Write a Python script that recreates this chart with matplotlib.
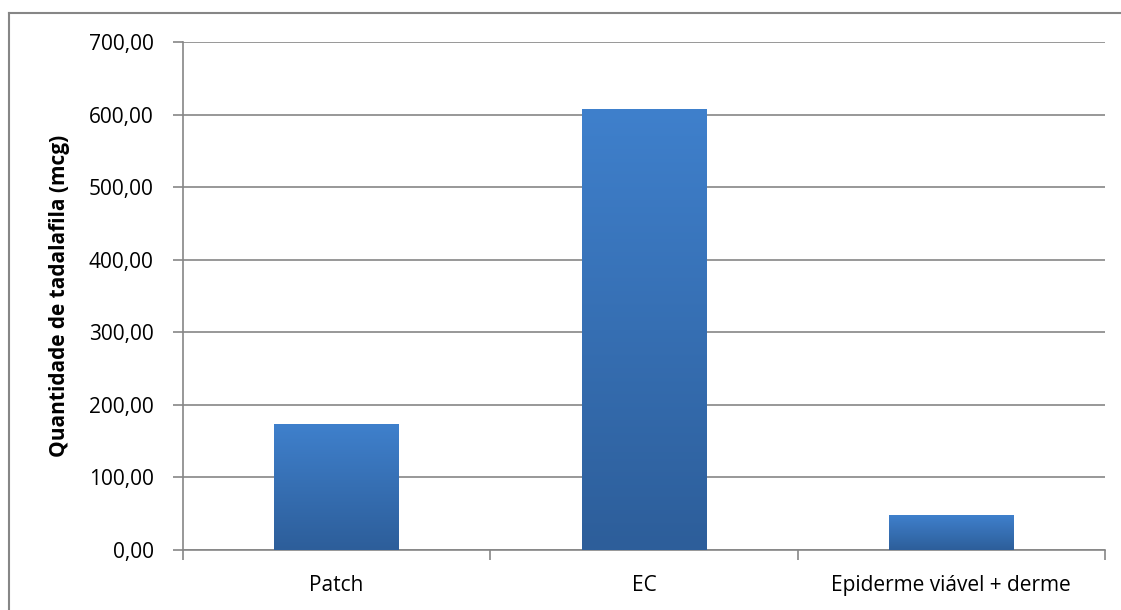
import numpy as np
import matplotlib.pyplot as plt
from matplotlib.lines import Line2D
from matplotlib.colors import LinearSegmentedColormap
from matplotlib.ticker import FuncFormatter

plt.rcParams['font.family'] = ['Open Sans', 'DejaVu Sans']

categories = ['Patch', 'EC', 'Epiderme viável + derme']
values = [173.6, 606.3, 46.9]
yticks = [0, 100, 200, 300, 400, 500, 600, 700]

grid_col = '#868686'
blue_grad = LinearSegmentedColormap.from_list('bar', ['#2d5e9a', '#3f80cc'])

fig = plt.figure(figsize=(11.21, 6.10), dpi=100)
ax = fig.add_axes([183/1121, 1 - 550/610, (1105 - 183)/1121, (550 - 42)/610])

# chart frame: only its top and left edges fall inside the canvas
fx, fy = 8.5/1121, 1 - 12.5/610
fig.lines.append(Line2D([fx, 1.01], [fy, fy], transform=fig.transFigure,
                        color=grid_col, linewidth=1.5))
fig.lines.append(Line2D([fx, fx], [-0.01, fy], transform=fig.transFigure,
                        color=grid_col, linewidth=1.5))

x = np.arange(len(categories))
bars = ax.bar(x, values, width=0.405, color='none', zorder=2)

# vertical gradient fill, lighter at the top
grad = np.linspace(0, 1, 256).reshape(-1, 1)
for b in bars:
    x0, w, h = b.get_x(), b.get_width(), b.get_height()
    ax.imshow(grad, extent=[x0, x0 + w, 0, h], origin='lower', aspect='auto',
              cmap=blue_grad, zorder=3)

ax.set_xlim(-0.5, len(categories) - 0.5)
ax.set_ylim(0, 700)
ax.set_yticks(yticks)
ax.yaxis.set_major_formatter(FuncFormatter(lambda v, _: f'{v:.2f}'.replace('.', ',')))
ax.set_xticks(x)
ax.set_xticklabels(categories)
ax.set_xticks(np.arange(len(categories) + 1) - 0.5, minor=True)

ax.grid(axis='y', color=grid_col, linewidth=1.2, zorder=1)
ax.set_axisbelow(True)
for s in ['top', 'right']:
    ax.spines[s].set_visible(False)
for s in ['left', 'bottom']:
    ax.spines[s].set_color(grid_col)
    ax.spines[s].set_linewidth(1.2)

ax.tick_params(axis='y', length=7, width=1.2, color=grid_col, labelsize=15, pad=14)
ax.tick_params(axis='x', which='major', length=0, labelsize=15, pad=18)
ax.tick_params(axis='x', which='minor', length=7, width=1.2, color=grid_col)

ax.set_ylabel('Quantidade de tadalafila (mcg)', fontsize=15, fontweight='bold', labelpad=14)

fig.savefig('out.png', dpi=100)
